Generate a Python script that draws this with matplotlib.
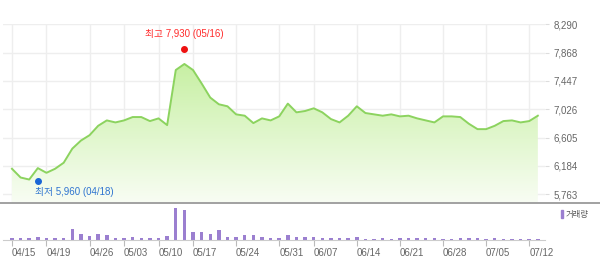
import matplotlib
matplotlib.use("Agg")
import matplotlib.pyplot as plt
import numpy as np
from matplotlib.colors import LinearSegmentedColormap
from matplotlib.patches import Rectangle
from matplotlib.lines import Line2D

# ---- data ----
dates = ["04/15","04/16","04/17","04/18","04/19","04/22","04/23","04/24","04/25","04/26","04/29","04/30",
         "05/02","05/03","05/07","05/08","05/09","05/10","05/13","05/14","05/16","05/17","05/20","05/21",
         "05/22","05/23","05/24","05/27","05/28","05/29","05/30","05/31",
         "06/03","06/04","06/05","06/07","06/10","06/11","06/12","06/13","06/14","06/17","06/18","06/19",
         "06/20","06/21","06/24","06/25","06/26","06/27","06/28",
         "07/01","07/02","07/03","07/04","07/05","07/08","07/09","07/10","07/11","07/12","07/15"]
close = [6140,6010,5980,6150,6080,6140,6230,6440,6560,6640,6780,6860,
         6830,6860,6910,6910,6850,6890,6790,7610,7700,7610,7410,7200,
         7100,7070,6950,6930,6820,6890,6860,6920,
         7110,6980,7000,7040,6980,6880,6830,6930,7070,6970,6950,6930,
         6950,6920,6930,6890,6860,6830,6920,
         6920,6910,6810,6730,6730,6780,6850,6860,6830,6850,6930]
volume = [100,170,100,270,100,100,100,1030,500,330,500,400,
          170,170,270,170,170,170,330,3100,2930,770,770,500,
          930,270,270,400,400,270,150,130,
          400,270,270,230,130,130,100,130,230,70,70,130,
          70,100,130,130,130,100,70,
          70,130,130,130,70,130,70,70,70,70,70]
tick_labels = ["04/15","04/19","04/26","05/03","05/10","05/17","05/24","05/31",
               "06/07","06/14","06/21","06/28","07/05","07/12"]
y_ticks = [5763, 6184, 6605, 7026, 7447, 7868, 8290]
high_value, high_date = 7930, "05/16"
low_value, low_date = 5960, "04/18"

# ---- layout ----
W, H = 600, 263
fig = plt.figure(figsize=(W/100, H/100), dpi=100)
fig.patch.set_facecolor("white")

def ax_rect(x0, y0, x1, y1):
    return [x0/W, (H-y1)/H, (x1-x0)/W, (y1-y0)/H]

num_font = ["Liberation Sans", "Noto Sans CJK KR"]
x = np.arange(len(dates))
tick_idx = [dates.index(t) for t in tick_labels]
xlim = (-1.04, 61.83)

# price axes
ax = fig.add_axes(ax_rect(3, 24, 545, 202.5))
ax.set_xlim(*xlim)
ax.set_ylim(5638, 8295)
for s in ax.spines.values():
    s.set_visible(False)
ax.set_xticks(tick_idx)
ax.set_xticklabels([])
ax.tick_params(axis="x", length=0)
ax.yaxis.tick_right()
ax.set_yticks(y_ticks)
ax.set_yticklabels([f"{v:,}" for v in y_ticks], fontfamily=num_font, fontsize=7, color="#666666")
ax.tick_params(axis="y", length=3, color="#dddddd", pad=3)
ax.grid(True, color="#eeeeee", lw=1)
ax.set_axisbelow(True)

# gradient fill
cmap = LinearSegmentedColormap.from_list("g", ["#f8fdf3", "#b9ec8c"])
poly = ax.fill_between(x, close, 5638, color="none", lw=0)
grad = np.linspace(0, 1, 256).reshape(-1, 1)
im = ax.imshow(grad, cmap=cmap, aspect="auto", origin="lower",
               extent=[xlim[0], xlim[1], 5638, 8295], zorder=1)
path = poly.get_paths()[0]
im.set_clip_path(path, ax.transData)
ax.plot(x, close, color="#8cd35f", lw=1.4, zorder=3, solid_joinstyle="round")

# high / low markers
hi = dates.index(high_date)
lo = dates.index(low_date)
ax.plot([hi], [high_value], "o", color="#ee1111", ms=4, zorder=4, clip_on=False)
ax.annotate(f"최고 {high_value:,} ({high_date})", (hi, high_value), xytext=(0, 7),
            textcoords="offset points", ha="center", va="bottom",
            fontsize=7, color="#ff2b2b", family=num_font)
ax.plot([lo], [low_value], "o", color="#1a66d6", ms=4, zorder=4)
ax.annotate(f"최저 {low_value:,} ({low_date})", (lo, low_value), xytext=(-2, -8),
            textcoords="offset points", ha="left", va="center",
            fontsize=7, color="#2f74d0", family=num_font)

# divider line
fig.add_artist(Line2D([0, 1], [(H-203)/H]*2, transform=fig.transFigure, color="#9a9a9a", lw=1.3))

# volume axes
vax = fig.add_axes(ax_rect(3, 205, 545, 239.5))
vax.set_xlim(*xlim)
vax.set_ylim(0, max(volume) * 34.5 / 31.5)
vax.bar(x, volume, width=0.4, color="#9b7fd0")
for k in ["top", "left", "right"]:
    vax.spines[k].set_visible(False)
vax.spines["bottom"].set_color("#cccccc")
vax.set_yticks([])
vax.set_xticks(tick_idx)
vax.set_xticklabels(tick_labels, fontfamily=num_font, fontsize=7, color="#666666")
vax.tick_params(axis="x", length=4, color="#bbbbbb", pad=2)
plt.setp(vax.get_xticklabels(), ha="left")

# legend
fig.add_artist(Rectangle((561/W, (H-218)/H), 2/W, 8/H, transform=fig.transFigure, color="#9b7fd0"))
fig.text(566/W, (H-214)/H, "거래량", fontsize=6, color="#555555", va="center", ha="left",
         family=["Noto Sans CJK KR", "DejaVu Sans"])

fig.savefig("out.png", dpi=100, facecolor="white")
